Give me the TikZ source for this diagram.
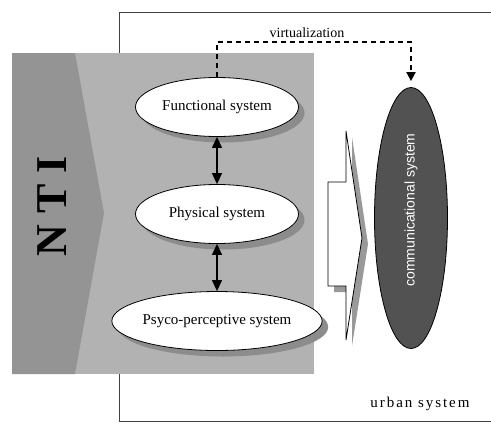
\documentclass[tikz,border=0pt]{standalone}
\usepackage{fontspec}
\setmainfont{Liberation Serif}
\setsansfont{Liberation Sans}
\usepackage{tikz}
\usetikzlibrary{arrows.meta,shapes.geometric,shadows,positioning}

\tikzset{
  sysnode/.style={ellipse, draw=black, fill=white, line width=0.8pt,
    minimum width=163pt, minimum height=59pt, inner sep=0pt,
    font=\fontsize{15}{15}\selectfont,
    drop shadow={shadow xshift=6pt, shadow yshift=-6pt, fill=black!45, opacity=1}},
  linkarrow/.style={{Triangle[length=11pt,width=10pt]}-{Triangle[length=11pt,width=10pt]}, line width=1.2pt},
  virtarrow/.style={-{Triangle[length=9pt,width=9pt]}, line width=1.8pt, dash pattern=on 5pt off 4pt}
}

\begin{document}
\begin{tikzpicture}[x=1pt, y=-1pt]
\useasboundingbox (0,0) rectangle (491,424);
%%%%% Urban system %%%%%
\draw[color=black!75, line width=1pt] (491,12) -- (119,12) -- (119,421) -- (491,421);
\node[font=\fontsize{15}{15}\selectfont\addfontfeature{LetterSpace=13}] (urban) at (420,404) {urban system};
%%%%% NTI panel %%%%%
\fill[black!30] (12,53) rectangle (314,374);
\fill[black!42] (12,53) -- (75,53) -- (104,213) -- (75,374) -- (12,374) -- cycle;
\node[rotate=90, font=\fontsize{44}{44}\selectfont\bfseries] (nti) at (52,206) {N T I};
%%%%% Systems %%%%%
\node[sysnode] (func) at (217,107) {Functional system};
\node[sysnode] (phys) at (217,214) {Physical system};
\node[sysnode] (psyco) at (217,321) {Psyco-perceptive system};
\draw[linkarrow] (func.south) -- (phys.north);
\draw[linkarrow] (phys.south) -- (psyco.north);
%%%%% Big arrow %%%%%
\fill[black!40] (334,188) -- (352,188) -- (352,137) -- (368,244) -- (352,346) -- (352,292) -- (334,292) -- cycle;
\draw[fill=white, line width=0.8pt] (328,182) -- (346,182) -- (346,131) -- (362,238) -- (346,340) -- (346,286) -- (328,286) -- cycle;
%%%%% Communicational system %%%%%
\node[ellipse, draw=black, fill=black!68, line width=0.8pt, minimum width=73pt, minimum height=261pt, inner sep=0pt] (comm) at (411,218) {};
\node[rotate=90, text=white, font=\sffamily\fontsize{14}{14}\selectfont] (commtext) at (411,210) {communicational system};
%%%%% Virtualization %%%%%
\coordinate (vcorner) at (411,42);
\draw[virtarrow] (func.north) |- (vcorner) -- ([yshift=6pt]comm.north);
\node[font=\fontsize{14}{14}\selectfont] (virt) at (307,33) {virtualization};
\end{tikzpicture}
\end{document}
